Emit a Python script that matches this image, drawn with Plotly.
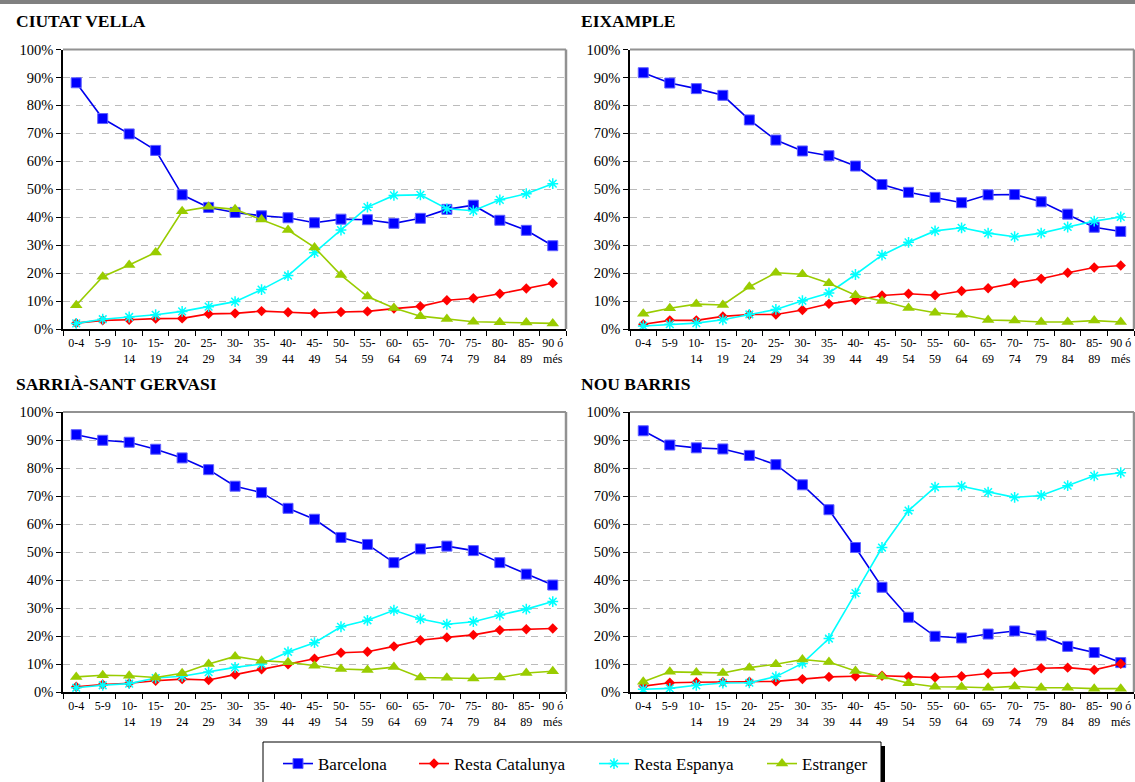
import plotly.graph_objects as go

W, H = 1135, 782

age_groups = ["0-4", "5-9", "10-<br>14", "15-<br>19", "20-<br>24", "25-<br>29", "30-<br>34",
              "35-<br>39", "40-<br>44", "45-<br>49", "50-<br>54", "55-<br>59", "60-<br>64",
              "65-<br>69", "70-<br>74", "75-<br>79", "80-<br>84", "85-<br>89", "90 ó<br>més"]

series_names = ["Barcelona", "Resta Catalunya", "Resta Espanya", "Estranger"]

# Percentage of residents by birthplace, per age group
ciutat_vella_bcn = [88.1, 75.3, 69.8, 63.9, 48.0, 43.5, 41.7, 40.5, 39.8, 38.0, 39.3, 39.1, 37.8, 39.6, 42.8, 44.3, 38.9, 35.3, 29.8]
ciutat_vella_cat = [2.1, 3.1, 3.3, 3.7, 3.8, 5.4, 5.6, 6.4, 6.0, 5.6, 6.1, 6.3, 7.3, 8.1, 10.3, 11.0, 12.6, 14.5, 16.4]
ciutat_vella_esp = [2.0, 3.5, 4.3, 5.1, 6.3, 8.0, 9.8, 14.1, 19.1, 27.3, 35.4, 43.6, 47.8, 48.0, 43.0, 42.3, 46.2, 48.4, 52.0]
ciutat_vella_ext = [8.5, 18.7, 22.9, 27.4, 42.1, 43.7, 42.8, 39.2, 35.4, 29.2, 19.3, 11.6, 7.5, 4.6, 3.6, 2.6, 2.4, 2.3, 2.0]

eixample_bcn = [91.7, 88.0, 86.0, 83.6, 74.8, 67.6, 63.7, 62.0, 58.3, 51.7, 48.9, 47.1, 45.2, 48.0, 48.1, 45.5, 41.1, 36.4, 34.9]
eixample_cat = [1.7, 3.1, 3.1, 4.5, 5.2, 5.2, 6.8, 9.0, 10.4, 12.0, 12.6, 12.1, 13.6, 14.6, 16.4, 18.0, 20.1, 22.0, 22.7]
eixample_esp = [1.1, 1.7, 2.1, 3.3, 5.2, 7.0, 10.1, 12.9, 19.5, 26.4, 31.0, 35.1, 36.2, 34.3, 33.0, 34.3, 36.5, 38.6, 40.1]
eixample_ext = [5.5, 7.4, 8.9, 8.6, 15.1, 20.1, 19.6, 16.4, 12.1, 10.0, 7.5, 5.8, 5.1, 3.2, 3.0, 2.5, 2.5, 3.0, 2.5]

sarria_bcn = [91.9, 89.9, 89.2, 86.7, 83.6, 79.4, 73.5, 71.2, 65.6, 61.7, 55.2, 52.7, 46.2, 51.1, 52.1, 50.5, 46.2, 42.1, 38.2]
sarria_cat = [1.9, 2.7, 3.1, 4.0, 4.6, 4.3, 6.2, 8.1, 9.9, 11.9, 14.0, 14.4, 16.3, 18.5, 19.5, 20.4, 22.1, 22.4, 22.7]
sarria_esp = [1.5, 2.4, 3.0, 5.0, 5.6, 7.1, 8.8, 10.0, 14.3, 17.6, 23.3, 25.6, 29.2, 26.1, 24.2, 25.1, 27.5, 29.6, 32.3]
sarria_ext = [5.4, 6.0, 5.8, 5.2, 6.7, 10.0, 12.7, 11.2, 10.6, 9.4, 8.2, 7.9, 8.9, 5.2, 5.1, 4.8, 5.2, 6.8, 7.4]

nou_barris_bcn = [93.3, 88.2, 87.2, 86.8, 84.5, 81.2, 74.0, 65.1, 51.6, 37.4, 26.7, 19.9, 19.3, 20.7, 21.8, 20.1, 16.3, 14.1, 10.5]
nou_barris_cat = [2.1, 3.3, 3.5, 3.6, 3.7, 3.8, 4.6, 5.4, 5.6, 5.8, 5.5, 5.2, 5.6, 6.6, 7.0, 8.5, 8.7, 7.9, 10.1]
nou_barris_esp = [1.0, 1.3, 2.4, 3.2, 3.3, 5.5, 10.2, 19.1, 35.3, 51.6, 64.8, 73.2, 73.5, 71.4, 69.5, 70.2, 73.7, 77.2, 78.3]
nou_barris_ext = [3.7, 7.2, 7.0, 6.8, 8.7, 9.9, 11.6, 10.7, 7.5, 5.5, 3.1, 1.9, 1.8, 1.5, 2.0, 1.5, 1.5, 1.2, 1.2]

districts = [
    ("CIUTAT VELLA", [ciutat_vella_bcn, ciutat_vella_cat, ciutat_vella_esp, ciutat_vella_ext]),
    ("EIXAMPLE", [eixample_bcn, eixample_cat, eixample_esp, eixample_ext]),
    ("SARRIÀ-SANT GERVASI", [sarria_bcn, sarria_cat, sarria_esp, sarria_ext]),
    ("NOU BARRIS", [nou_barris_bcn, nou_barris_cat, nou_barris_esp, nou_barris_ext]),
]

SERIF = "Liberation Serif"

styles = [
    dict(line=dict(color="#0000EE", width=1.6),
         marker=dict(symbol="square", size=10, color="#0000FF", line=dict(color="#6060FF", width=1))),
    dict(line=dict(color="#FF0000", width=1.6),
         marker=dict(symbol="diamond", size=8, color="#FF0000", line=dict(color="#FF0000", width=0))),
    dict(line=dict(color="#00FFFF", width=1.6),
         marker=dict(symbol="asterisk-open", size=9, color="#00FFFF", line=dict(color="#00FFFF", width=1.5))),
    dict(line=dict(color="#99CC00", width=1.6),
         marker=dict(symbol="triangle-up", size=11, color="#99CC00", line=dict(color="#99CC00", width=0))),
]


def px_x(v):
    return v / W


def px_y(v):
    return (H - v) / H


# Plot-area pixel boxes: (left, right, top, bottom)
boxes = [(63, 566, 49.5, 329), (630, 1134, 49.5, 329), (63, 566, 412, 692), (630, 1134, 412, 692)]
title_pos = [(14, 21), (579, 21), (14, 384), (579, 384)]

fig = go.Figure()
layout = dict(width=W, height=H, margin=dict(l=0, r=0, t=0, b=0, autoexpand=False),
              paper_bgcolor="white", plot_bgcolor="white", showlegend=True,
              font=dict(family=SERIF, color="black"))
shapes = []
annotations = []

# Left edge of each legend label
legend_text_x = [318, 454, 634, 802]

for i, (name, values) in enumerate(districts):
    xa = "x" if i == 0 else f"x{i + 1}"
    ya = "y" if i == 0 else f"y{i + 1}"
    for j, vals in enumerate(values):
        leg = "legend" if j == 0 else f"legend{j + 1}"
        fig.add_trace(go.Scatter(
            x=age_groups, y=vals, name=series_names[j], mode="lines+markers",
            xaxis=xa, yaxis=ya, showlegend=(i == 0), legend=leg,
            hoverinfo="skip", **styles[j]))

    l, r, t, b = boxes[i]
    key = "" if i == 0 else str(i + 1)
    layout["xaxis" + key] = dict(
        domain=[px_x(l), px_x(r)], anchor=ya, type="category", automargin=False,
        range=[-0.5, 18.5], showline=True, linecolor="black", linewidth=1.5,
        ticks="outside", tickson="boundaries", ticklen=5, tickcolor="black", tickwidth=1,
        ticklabelstandoff=2, tickangle=0, showgrid=False,
        tickfont=dict(family=SERIF, size=12, color="black"), fixedrange=True)
    layout["yaxis" + key] = dict(
        domain=[px_y(b), px_y(t)], anchor=xa, range=[0, 100], dtick=10, automargin=False,
        ticksuffix="%", showline=True, linecolor="black", linewidth=1.5,
        ticks="outside", ticklen=5, tickcolor="black", tickwidth=1,
        showgrid=True, gridcolor="#BBBBBB", gridwidth=1, griddash="7px,6px",
        zeroline=False, tickfont=dict(family=SERIF, size=14.5, color="black"),
        fixedrange=True)

    # Grey frame on the top and right of the plot area
    shapes.append(dict(type="line", xref=f"{xa} domain", yref=f"{ya} domain",
                       x0=0, x1=1, y0=1, y1=1, line=dict(color="#929292", width=2)))
    shapes.append(dict(type="line", xref=f"{xa} domain", yref=f"{ya} domain",
                       x0=1, x1=1, y0=0, y1=1, line=dict(color="#929292", width=2.5)))

    tx, ty = title_pos[i]
    annotations.append(dict(text=f"<b>{name}</b>", xref="paper", yref="paper",
                            x=px_x(tx), y=px_y(ty), xanchor="left", yanchor="middle",
                            showarrow=False, font=dict(family=SERIF, size=17.5, color="black")))

# Grey band across the top edge
shapes.append(dict(type="rect", xref="paper", yref="paper", x0=0, x1=1,
                   y0=px_y(4), y1=1, fillcolor="#808080", line=dict(width=0)))

# Legend frame with its shadow
shapes.append(dict(type="rect", xref="paper", yref="paper", x0=px_x(885), x1=px_x(881),
                   y0=px_y(800), y1=px_y(746), fillcolor="black", line=dict(width=0)))
shapes.append(dict(type="rect", xref="paper", yref="paper", x0=px_x(263), x1=px_x(881),
                   y0=px_y(800), y1=px_y(742), fillcolor="rgba(0,0,0,0)",
                   line=dict(color="black", width=1)))

for j in range(4):
    key = "legend" if j == 0 else f"legend{j + 1}"
    layout[key] = dict(x=px_x(legend_text_x[j] - 40), y=px_y(764), xanchor="left", yanchor="middle",
                       orientation="h", bgcolor="rgba(0,0,0,0)", borderwidth=0,
                       font=dict(family=SERIF, size=17, color="black"))

layout["shapes"] = shapes
layout["annotations"] = annotations
fig.update_layout(**layout)

fig.write_html("out.html", config={"displayModeBar": False})
